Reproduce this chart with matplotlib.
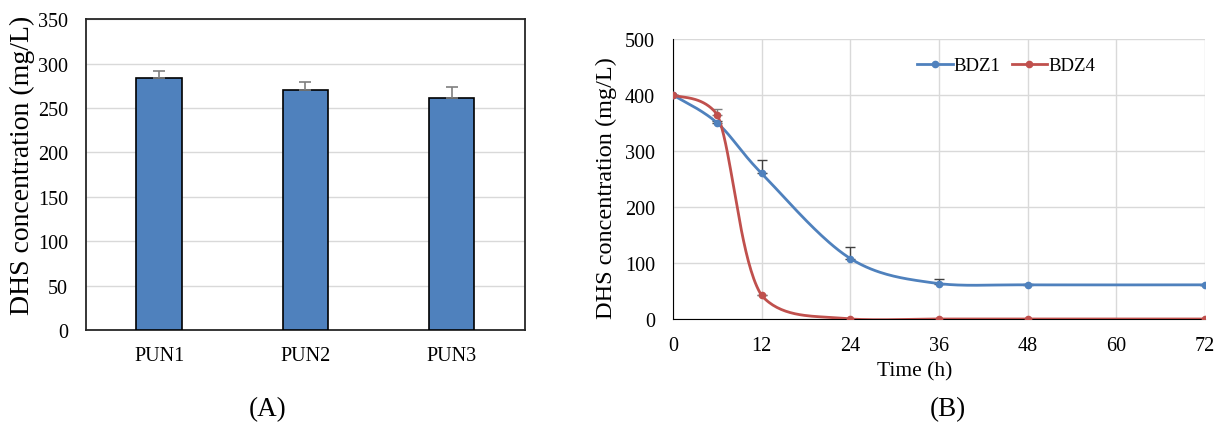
import numpy as np
import matplotlib.pyplot as plt

plt.rcParams['font.family'] = ['Liberation Serif', 'DejaVu Serif']

# data
strains = ["PUN1", "PUN2", "PUN3"]
dhs_a = [284, 270, 261]
err_a = [8, 9, 13]

time_h = [0, 6, 12, 24, 36, 48, 72]
bdz1 = [400, 350, 260, 108, 63, 61, 61]
bdz1_err = [0, 3, 24, 21, 9, 2, 0]
bdz4 = [400, 365, 42, 0, 0, 0, 0]
bdz4_err = [0, 10, 0, 0, 0, 0, 0]

blue = "#4f81bd"
red = "#c0504d"
grid_c = "#d9d9d9"


def smooth(x, y, n=40):
    # bezier smoothing like excel "smoothed line"
    x = np.asarray(x, float)
    y = np.asarray(y, float)
    lo, hi = y.min(), y.max()
    px = np.concatenate([[x[0]], x, [x[-1]]])
    py = np.concatenate([[y[0]], y, [y[-1]]])
    xs, ys = [], []
    t = np.linspace(0, 1, n)
    for i in range(1, len(px) - 2):
        p0 = np.array([px[i], py[i]])
        p3 = np.array([px[i + 1], py[i + 1]])
        p1 = p0 + (np.array([px[i + 1], py[i + 1]]) - np.array([px[i - 1], py[i - 1]])) / 6
        p2 = p3 - (np.array([px[i + 2], py[i + 2]]) - np.array([px[i], py[i]])) / 6
        p1[1] = np.clip(p1[1], lo - 3, hi)
        p2[1] = np.clip(p2[1], lo - 3, hi)
        b = ((1 - t) ** 3)[:, None] * p0 + (3 * (1 - t) ** 2 * t)[:, None] * p1 \
            + (3 * (1 - t) * t ** 2)[:, None] * p2 + (t ** 3)[:, None] * p3
        xs.extend(b[:, 0])
        ys.extend(b[:, 1])
    return xs, ys


fig = plt.figure(figsize=(12.22, 4.27), dpi=100)

# -------------------------------------------------
# (A) bar chart
# -------------------------------------------------
ax1 = fig.add_axes([0.0704, 0.2248, 0.359, 0.728])
pos = np.arange(len(strains))
ax1.bar(pos, dhs_a, width=0.31, color=blue, edgecolor="black", linewidth=1.2, zorder=3)
ax1.errorbar(pos, dhs_a, yerr=[np.zeros(3), err_a], fmt="none",
             ecolor="#7f7f7f", elinewidth=1.2, capsize=4, capthick=1.2, zorder=4)
ax1.set_xlim(-0.5, 2.5)
ax1.set_ylim(0, 350)
ax1.set_yticks(range(0, 351, 50))
ax1.set_xticks(pos)
ax1.set_xticklabels(strains)
ax1.yaxis.grid(True, color=grid_c, linewidth=1, zorder=0)
ax1.set_axisbelow(True)
ax1.tick_params(length=0, labelsize=14.5)
ax1.tick_params(axis="y", pad=13)
ax1.tick_params(axis="x", pad=11.5)
for s in ax1.spines.values():
    s.set_color("#262626")
    s.set_linewidth(1.3)
ax1.set_ylabel("DHS concentration (mg/L)", fontsize=20)
ax1.yaxis.set_label_coords(-0.146, 0.534)
ax1.yaxis.label.set_va("center")
fig.text(0.219, 0.025, "(A)", fontsize=19.5, ha="center")

# -------------------------------------------------
# (B) time course
# -------------------------------------------------
ax2 = fig.add_axes([0.5507, 0.2506, 0.4354, 0.6557])
sx, sy = smooth(time_h, bdz1)
ax2.plot(sx, sy, color=blue, linewidth=2, zorder=3)
ax2.plot(time_h, bdz1, "o", color=blue, markersize=4.5, zorder=4)
ax2.errorbar(time_h, bdz1, yerr=[np.zeros(7), bdz1_err], fmt="none",
             ecolor="#404040", elinewidth=1, capsize=3.5, zorder=2)
sx, sy = smooth(time_h, bdz4)
ax2.plot(sx, sy, color=red, linewidth=2, zorder=3)
ax2.plot(time_h, bdz4, "o", color=red, markersize=4.5, zorder=4)
ax2.errorbar(time_h, bdz4, yerr=[np.zeros(7), bdz4_err], fmt="none",
             ecolor="#7f7f7f", elinewidth=1, capsize=3.5, zorder=2)

# legend handles
ax2.plot([], [], "-o", color=blue, linewidth=2, markersize=4.5, label="BDZ1")
ax2.plot([], [], "-o", color=red, linewidth=2, markersize=4.5, label="BDZ4")
ax2.legend(loc="center", bbox_to_anchor=(0.626, 0.905), ncol=2, frameon=False,
           fontsize=13.5, handlelength=1.9, handletextpad=0.05, columnspacing=0.6)

ax2.set_xlim(0, 72)
ax2.set_ylim(0, 500)
ax2.set_xticks(range(0, 73, 12))
ax2.set_yticks(range(0, 501, 100))
ax2.grid(True, color=grid_c, linewidth=1, zorder=0)
ax2.set_axisbelow(True)
ax2.spines["top"].set_visible(False)
ax2.spines["right"].set_visible(False)
ax2.spines["left"].set_color("black")
ax2.spines["bottom"].set_color("black")
ax2.tick_params(length=0, labelsize=14.5)
ax2.tick_params(axis="y", pad=13)
ax2.tick_params(axis="x", pad=12)
ax2.set_ylabel("DHS concentration (mg/L)", fontsize=17.5)
ax2.yaxis.set_label_coords(-0.126, 0.471)
ax2.yaxis.label.set_va("center")
ax2.set_xlabel("Time (h)", fontsize=15.5)
ax2.xaxis.set_label_coords(0.455, -0.186)
ax2.xaxis.label.set_va("center")
fig.text(0.7757, 0.025, "(B)", fontsize=19.5, ha="center")

fig.savefig("out.png", dpi=100)
